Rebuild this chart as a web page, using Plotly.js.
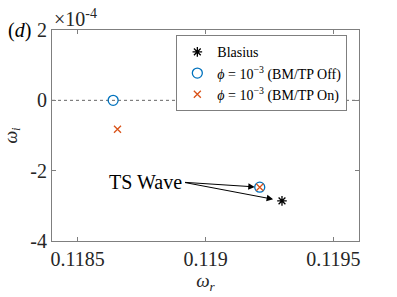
<!DOCTYPE html>
<html>
<head>
<meta charset="utf-8">
<script src="https://cdn.plot.ly/plotly-3.0.1.min.js"></script>
<style>html,body{margin:0;padding:0;background:#fff;}</style>
</head>
<body>
<div id="chart" style="width:397px;height:297px;"></div>
<script>
// omega_r values and omega_i values (in units of 1e-4)
const blasiusR = [0.119299];
const blasiusI = [-2.86];
const offR = [0.118639, 0.119212];
const offI = [0.0, -2.47];
const onR = [0.118656, 0.119212];
const onI = [-0.82, -2.47];
const xTicks = [0.1185, 0.119, 0.1195];
const xTickLabels = ['0.1185', '0.119', '0.1195'];
const yTicks = [-4, -2, 0, 2];
const yTickLabels = ['-4', '-2', '0', '2'];
const tsTail = {x: 0.118914, y: -2.33};

const serif = '"Liberation Serif", "Times New Roman", Times, serif';
const txt = '#262626';

const traces = [
  {x: blasiusR, y: blasiusI, mode: 'markers', name: 'Blasius',
   marker: {symbol: 'asterisk-open', size: 8, color: '#000', line: {color: '#000', width: 1.3}}},
  {x: offR, y: offI, mode: 'markers', name: '<i>ϕ</i> = 10<sup>−3</sup> (BM/TP Off)',
   marker: {symbol: 'circle-open', size: 10, color: '#0072BD', line: {color: '#0072BD', width: 1.3}}},
  {x: onR, y: onI, mode: 'markers', name: '<i>ϕ</i> = 10<sup>−3</sup> (BM/TP On)',
   marker: {symbol: 'x-thin-open', size: 7, color: '#D95319', line: {color: '#D95319', width: 1.3}}}
];

const axisCommon = {
  showline: true, linecolor: '#7f7f7f', linewidth: 1, mirror: 'ticks',
  ticks: 'inside', ticklen: 4, tickcolor: '#7f7f7f',
  showgrid: false, zeroline: false,
  tickfont: {family: serif, size: 20, color: txt}
};

const layout = {
  width: 397, height: 297,
  margin: {l: 52, r: 38, t: 30, b: 56},
  paper_bgcolor: '#fff', plot_bgcolor: '#fff',
  font: {family: serif},
  showlegend: true,
  legend: {x: 0.405, y: 0.975, xanchor: 'left', yanchor: 'top',
    bgcolor: '#fff', bordercolor: '#7f7f7f', borderwidth: 1,
    font: {family: serif, size: 14, color: '#000'}, tracegroupgap: 0, itemwidth: 30},
  xaxis: Object.assign({}, axisCommon, {
    range: [0.1184, 0.1196], tickvals: xTicks, ticktext: xTickLabels,
    title: {text: '<i>ω</i><sub><i>r</i></sub>', font: {family: serif, size: 19, color: txt}, standoff: 2}
  }),
  yaxis: Object.assign({}, axisCommon, {
    range: [-4, 2], tickvals: yTicks, ticktext: yTickLabels,
    title: {text: '<i>ω</i><sub><i>i</i></sub>', font: {family: serif, size: 18, color: txt}, standoff: 8}
  }),
  shapes: [
    {type: 'line', xref: 'paper', x0: 0, x1: 1, yref: 'y', y0: 0, y1: 0,
     line: {color: '#666', width: 1, dash: 'dot'}, layer: 'below'}
  ],
  annotations: [
    {xref: 'paper', yref: 'paper', x: -0.105, y: 1.0, xanchor: 'center', yanchor: 'middle',
     text: '(<i>d</i>)', showarrow: false, font: {family: serif, size: 20, color: '#000'}},
    {xref: 'paper', yref: 'paper', x: 0.0, y: 1.0, xanchor: 'left', yanchor: 'bottom', yshift: -2,
     text: '×10<sup>-4</sup>', showarrow: false, font: {family: serif, size: 20, color: txt}},
    {xref: 'x', yref: 'y', x: tsTail.x, y: tsTail.y, xanchor: 'right', yanchor: 'middle',
     text: 'TS Wave', showarrow: false, font: {family: serif, size: 20, color: '#000'}},
    {xref: 'x', yref: 'y', x: offR[1], y: offI[1], axref: 'x', ayref: 'y', ax: tsTail.x, ay: tsTail.y,
     text: '', showarrow: true, arrowhead: 2, arrowsize: 1.3, arrowwidth: 1, arrowcolor: '#000', standoff: 5},
    {xref: 'x', yref: 'y', x: blasiusR[0], y: blasiusI[0], axref: 'x', ayref: 'y', ax: tsTail.x, ay: tsTail.y,
     text: '', showarrow: true, arrowhead: 2, arrowsize: 1.3, arrowwidth: 1, arrowcolor: '#000', standoff: 9}
  ]
};

Plotly.newPlot('chart', traces, layout, {displayModeBar: false, staticPlot: true});
</script>
</body>
</html>
